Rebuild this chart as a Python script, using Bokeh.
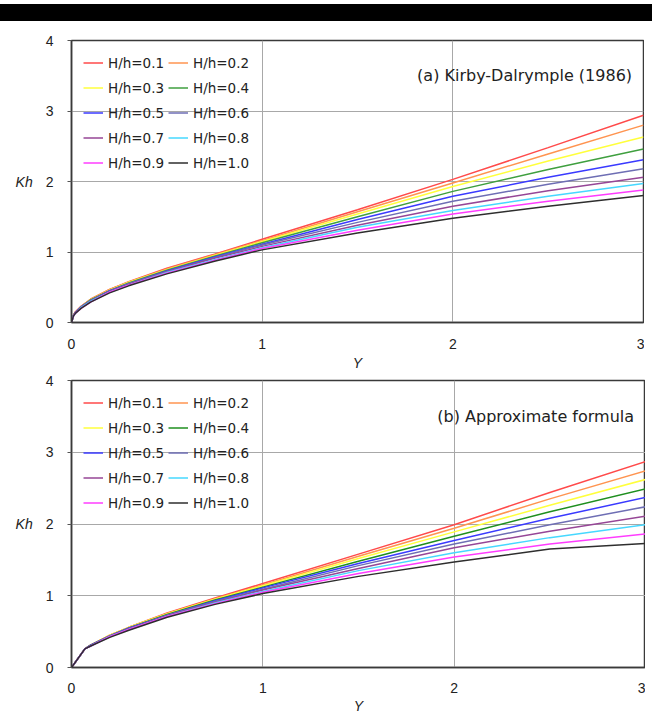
from bokeh.plotting import figure
from bokeh.models import Legend, LegendItem, Label, Div, Range1d, FixedTicker
from bokeh.layouts import column
from bokeh.embed import file_html
from bokeh.resources import INLINE

# ---------------- data ----------------
labels = ["H/h=0.1", "H/h=0.2", "H/h=0.3", "H/h=0.4", "H/h=0.5",
          "H/h=0.6", "H/h=0.7", "H/h=0.8", "H/h=0.9", "H/h=1.0"]
x_ticks = [0, 1, 2, 3]
y_ticks = [0, 1, 2, 3, 4]

# (a) Kirby-Dalrymple (1986)
Y_a = [0, 0.01, 0.02, 0.05, 0.1, 0.2, 0.3, 0.5, 0.75, 1.0, 1.5, 2.0, 2.5, 3.0]
kh_a_01 = [0, 0.10, 0.15, 0.23, 0.33, 0.47, 0.58, 0.77, 0.97, 1.18, 1.60, 2.03, 2.48, 2.94]
kh_a_02 = [0, 0.10, 0.15, 0.23, 0.33, 0.47, 0.57, 0.76, 0.96, 1.16, 1.57, 1.98, 2.39, 2.80]
kh_a_03 = [0, 0.10, 0.14, 0.22, 0.32, 0.46, 0.57, 0.75, 0.95, 1.15, 1.54, 1.93, 2.29, 2.63]
kh_a_04 = [0, 0.10, 0.14, 0.22, 0.32, 0.45, 0.56, 0.74, 0.94, 1.13, 1.50, 1.86, 2.17, 2.46]
kh_a_05 = [0, 0.10, 0.14, 0.22, 0.31, 0.45, 0.55, 0.73, 0.93, 1.11, 1.46, 1.79, 2.06, 2.31]
kh_a_06 = [0, 0.09, 0.14, 0.21, 0.31, 0.44, 0.55, 0.72, 0.92, 1.10, 1.42, 1.72, 1.96, 2.18]
kh_a_07 = [0, 0.09, 0.14, 0.21, 0.30, 0.44, 0.54, 0.72, 0.91, 1.08, 1.38, 1.65, 1.87, 2.06]
kh_a_08 = [0, 0.09, 0.13, 0.21, 0.30, 0.43, 0.53, 0.71, 0.89, 1.06, 1.35, 1.59, 1.79, 1.97]
kh_a_09 = [0, 0.09, 0.13, 0.20, 0.29, 0.43, 0.53, 0.70, 0.88, 1.05, 1.31, 1.54, 1.72, 1.88]
kh_a_10 = [0, 0.09, 0.13, 0.20, 0.29, 0.42, 0.52, 0.69, 0.87, 1.03, 1.27, 1.48, 1.65, 1.80]

# (b) Approximate formula
Y_b = [0, 0.07, 0.1, 0.2, 0.3, 0.5, 0.75, 1.0, 1.5, 2.0, 2.5, 3.0]
kh_b_01 = [0, 0.26, 0.31, 0.45, 0.56, 0.76, 0.97, 1.17, 1.58, 1.99, 2.44, 2.87]
kh_b_02 = [0, 0.26, 0.31, 0.45, 0.56, 0.75, 0.96, 1.15, 1.55, 1.94, 2.35, 2.74]
kh_b_03 = [0, 0.26, 0.31, 0.45, 0.56, 0.75, 0.95, 1.14, 1.52, 1.89, 2.26, 2.62]
kh_b_04 = [0, 0.26, 0.31, 0.44, 0.55, 0.74, 0.94, 1.12, 1.48, 1.83, 2.17, 2.49]
kh_b_05 = [0, 0.26, 0.31, 0.44, 0.55, 0.73, 0.93, 1.11, 1.45, 1.77, 2.08, 2.37]
kh_b_06 = [0, 0.26, 0.30, 0.44, 0.54, 0.73, 0.92, 1.09, 1.42, 1.72, 1.99, 2.24]
kh_b_07 = [0, 0.26, 0.30, 0.43, 0.54, 0.72, 0.91, 1.08, 1.38, 1.67, 1.90, 2.11]
kh_b_08 = [0, 0.26, 0.30, 0.43, 0.53, 0.71, 0.90, 1.06, 1.35, 1.60, 1.81, 1.99]
kh_b_09 = [0, 0.26, 0.30, 0.43, 0.53, 0.71, 0.89, 1.05, 1.31, 1.54, 1.72, 1.86]
kh_b_10 = [0, 0.26, 0.30, 0.42, 0.52, 0.70, 0.88, 1.03, 1.27, 1.47, 1.65, 1.73]

series_a = [kh_a_01, kh_a_02, kh_a_03, kh_a_04, kh_a_05,
            kh_a_06, kh_a_07, kh_a_08, kh_a_09, kh_a_10]
series_b = [kh_b_01, kh_b_02, kh_b_03, kh_b_04, kh_b_05,
            kh_b_06, kh_b_07, kh_b_08, kh_b_09, kh_b_10]

colors_a = ["#ff4a4a", "#ff9450", "#ffff3c", "#3f9f3f", "#3a3aff",
            "#6e6eb4", "#964696", "#46d8ff", "#ff3cff", "#2e2e2e"]
colors_b = ["#ff4a4a", "#ff9450", "#ffff3c", "#1f8f1f", "#3a3aff",
            "#6e6eb4", "#964696", "#46d8ff", "#ff3cff", "#2e2e2e"]

FONT = "Liberation Sans"
LFONT = "DejaVu Sans"

# row-major legend order for a 2-column legend that fills column by column
legend_order = [0, 2, 4, 6, 8, 1, 3, 5, 7, 9]


def make_panel(Y, series, colors, note, fw, fh, left, right, top, bottom,
               tick_standoff, xlab_standoff):
    p = figure(frame_width=fw, frame_height=fh,
               min_border_left=left, min_border_right=right,
               min_border_top=top, min_border_bottom=bottom,
               x_range=Range1d(0, 3), y_range=Range1d(0, 4),
               output_backend="svg", toolbar_location=None)
    p.background_fill_color = "white"
    p.border_fill_color = "white"
    p.outline_line_color = "#3a3a3a"
    p.outline_line_width = 1.5

    p.xaxis.ticker = FixedTicker(ticks=x_ticks)
    p.yaxis.ticker = FixedTicker(ticks=y_ticks)
    for ax in (p.xaxis[0], p.yaxis[0]):
        ax.axis_line_color = "#3a3a3a"
        ax.axis_line_width = 1.5
        ax.major_label_text_font = FONT
        ax.major_label_text_font_size = "14px"
        ax.major_label_text_color = "#222222"
        ax.minor_tick_line_color = None
        ax.axis_label_text_font = FONT
        ax.axis_label_text_font_size = "14px"
        ax.axis_label_text_font_style = "italic"
        ax.axis_label_text_color = "#222222"
    p.xaxis.major_tick_line_color = None
    p.xaxis.major_tick_out = 0
    p.xaxis.major_tick_in = 0
    p.xaxis.major_label_standoff = tick_standoff
    p.yaxis.major_tick_in = 0
    p.yaxis.major_tick_out = 4
    p.yaxis.major_tick_line_color = "#555555"
    p.yaxis.major_label_standoff = 14
    p.xaxis.axis_label = "Y"
    p.xaxis.axis_label_standoff = xlab_standoff
    p.yaxis.axis_label = "Kh"
    p.yaxis.axis_label_orientation = "horizontal"
    p.yaxis.axis_label_standoff = 10

    p.xgrid.grid_line_color = "#a8a8a8"
    p.ygrid.grid_line_color = "#a8a8a8"
    p.xgrid.grid_line_width = 1
    p.ygrid.grid_line_width = 1

    rends = []
    for ys, c in zip(series, colors):
        rends.append(p.line(Y, ys, line_color=c, line_width=1.5))
    items = [LegendItem(label=labels[i], renderers=[rends[i]]) for i in legend_order]

    legend = Legend(items=items, ncols=2, location="top_left")
    legend.border_line_color = None
    legend.background_fill_alpha = 0
    legend.margin = 12
    legend.padding = 2
    legend.glyph_width = 20
    legend.glyph_height = 21
    legend.label_height = 21
    legend.label_standoff = 5
    legend.spacing = 4
    legend.label_text_font = LFONT
    legend.label_text_font_size = "13.5px"
    legend.label_text_color = "#222222"
    p.add_layout(legend)

    p.add_layout(Label(x=2.94, y=3.5, text=note, text_align="right",
                       text_baseline="middle", text_font=LFONT,
                       text_font_size="16px", text_color="#222222"))
    return p


pa = make_panel(Y_a, series_a, colors_a, "(a) Kirby-Dalrymple (1986)",
                572, 282, 71, 1, 13, 40, 16, 3)
pb = make_panel(Y_b, series_b, colors_b, "(b) Approximate formula",
                574, 287, 71, 0, 7, 40, 15, 2)

bar = Div(text='<div style="position:relative;left:-8px;top:-1px;'
               'width:660px;height:17px;background:black;"></div>',
          width=644, height=17)

layout = column(bar, pa, pb, spacing=0)

open("out.html", "w").write(file_html(layout, INLINE))
